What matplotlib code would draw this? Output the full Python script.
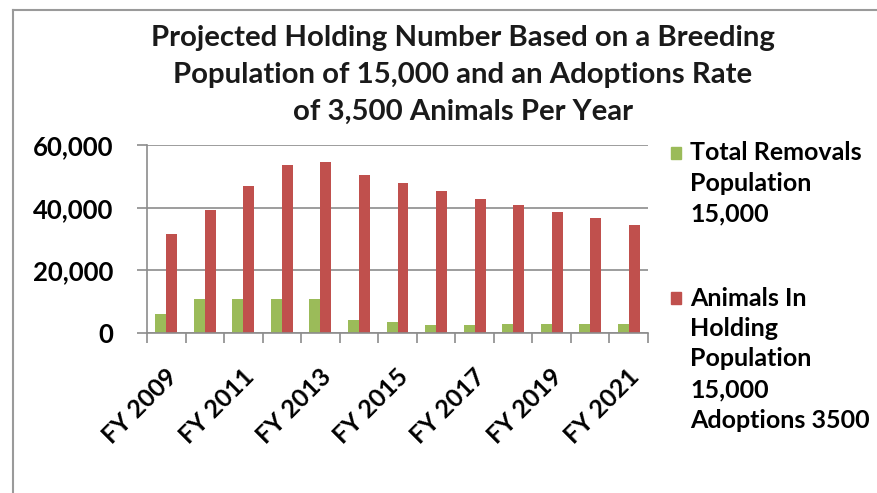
import matplotlib
matplotlib.use("Agg")
import matplotlib.pyplot as plt
from matplotlib.patches import Rectangle
from matplotlib.lines import Line2D
from matplotlib.ticker import FuncFormatter, FixedLocator
import numpy as np

# ---- data ----
years = ["FY 2009", "FY 2010", "FY 2011", "FY 2012", "FY 2013", "FY 2014", "FY 2015",
         "FY 2016", "FY 2017", "FY 2018", "FY 2019", "FY 2020", "FY 2021"]
total_removals = [6000, 11000, 11000, 11000, 11000, 4000, 3500, 2500, 2500, 3000, 3000, 3000, 3000]
animals_in_holding = [31500, 39200, 46900, 53600, 54600, 50500, 48000, 45400, 42900, 40700, 38700, 36600, 34600]
series_labels = ["Total Removals\nPopulation\n15,000",
                 "Animals In\nHolding\nPopulation\n15,000\nAdoptions 3500"]
title_lines = ["Projected Holding Number Based on a Breeding",
               "Population of 15,000 and an Adoptions Rate",
               "of 3,500 Animals Per Year"]
y_ticks = [0, 20000, 40000, 60000]

green = "#9BBB59"
red = "#C0504D"
grid_col = "#8C8C8C"
FONT = "Lato"

W, H = 877, 493
fig = plt.figure(figsize=(W / 100, H / 100), dpi=100)
fig.patch.set_facecolor("white")

def fx(px):
    return px / W

def fy(py):
    return 1 - py / H

# outer border (top and left visible)
fig.add_artist(Line2D([fx(13), 1.0], [fy(10), fy(10)], color="#9A9A9A", lw=1.5))
fig.add_artist(Line2D([fx(13), fx(13)], [fy(10), 0.0], color="#9A9A9A", lw=1.5))

ax_left, ax_right, ax_top, ax_bot = 147, 648, 145, 333
ax = fig.add_axes([fx(ax_left), fy(ax_bot), fx(ax_right - ax_left), (ax_bot - ax_top) / H])

x = np.arange(len(years))
bw = 0.285
ax.bar(x - bw / 2, total_removals, width=bw, color=green, zorder=3)
ax.bar(x + bw / 2, animals_in_holding, width=bw, color=red, zorder=3)

ax.set_xlim(-0.5, len(years) - 0.5)
ax.set_ylim(0, 60000)
ax.set_yticks(y_ticks)
ax.yaxis.set_major_formatter(FuncFormatter(lambda v, p: f"{int(v):,}"))
ax.yaxis.grid(True, color=grid_col, lw=1.2, zorder=0)
ax.set_axisbelow(True)

for s in ["top", "right"]:
    ax.spines[s].set_visible(False)
for s in ["left", "bottom"]:
    ax.spines[s].set_color(grid_col)
    ax.spines[s].set_linewidth(1.2)
ax.spines["bottom"].set_zorder(4)

ax.tick_params(axis="y", direction="out", length=7.2, width=1.2, color=grid_col,
               pad=17, labelsize=18.5)
for lab in ax.get_yticklabels():
    lab.set_fontweight("bold")
    lab.set_fontfamily(FONT)

# x ticks at category boundaries, labels every other category
ax.xaxis.set_major_locator(FixedLocator(np.arange(-0.5, len(years), 1.0)))
ax.tick_params(axis="x", direction="out", length=7.2, width=1.2, color=grid_col, labelbottom=False)
for i in range(0, len(years), 2):
    ax.annotate(years[i], xy=(i, 0), xycoords=("data", "axes fraction"),
                xytext=(5, -29), textcoords="offset points",
                rotation=45, rotation_mode="anchor", ha="right", va="center",
                fontsize=18, fontweight="bold", family=FONT, color="black")

# title
for i, line in enumerate(title_lines):
    fig.text(fx(463), fy(38 + i * 37), line, ha="center", va="center",
             fontsize=21.2, fontweight="bold", family=FONT, color="#1a1a1a")

# legend (manual)
colors = [green, red]
starts = [153, 298]
for lbl, col, y0 in zip(series_labels, colors, starts):
    fig.add_artist(Rectangle((fx(671), fy(y0 + 6)), fx(10), 12 / H, color=col,
                             transform=fig.transFigure))
    for j, line in enumerate(lbl.split("\n")):
        fig.text(fx(690), fy(y0 + j * 30.5), line, ha="left", va="center",
                 fontsize=18, fontweight="bold", family=FONT, color="black")

fig.savefig("out.png", dpi=100, facecolor="white")
